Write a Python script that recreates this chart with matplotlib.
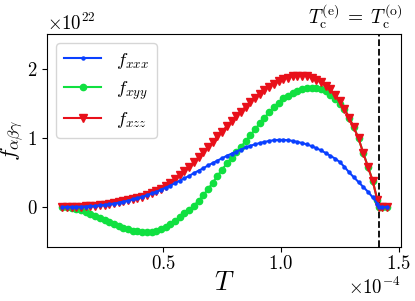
import numpy as np
import matplotlib
matplotlib.use("Agg")
from matplotlib import pyplot as plt

plt.rcParams['font.family'] = 'serif'
plt.rcParams['font.serif'] = ['cmr10', 'DejaVu Serif']
plt.rcParams['mathtext.fontset'] = 'cm'
plt.rcParams['axes.formatter.use_mathtext'] = True
plt.rcParams['axes.unicode_minus'] = False

# temperature in units of 1e-4, f in units of 1e22
T_scale = 1e-4
f_scale = 1e22
T_c = 1.415

T_vals = [0.07, 0.09, 0.11, 0.13, 0.15, 0.17, 0.19, 0.21, 0.23, 0.25,
          0.27, 0.29, 0.31, 0.33, 0.35, 0.37, 0.39, 0.41, 0.43, 0.45,
          0.47, 0.49, 0.51, 0.53, 0.55, 0.57, 0.59, 0.61, 0.63, 0.65,
          0.67, 0.69, 0.71, 0.73, 0.75, 0.77, 0.79, 0.81, 0.83, 0.85,
          0.87, 0.89, 0.91, 0.93, 0.95, 0.97, 0.99, 1.01, 1.03, 1.05,
          1.07, 1.09, 1.11, 1.13, 1.15, 1.17, 1.19, 1.21, 1.23, 1.25,
          1.27, 1.29, 1.31, 1.33, 1.35, 1.37, 1.39, 1.41,
          1.415, 1.43, 1.45]

f_xxx = [0.000, 0.000, 0.001, 0.002, 0.004, 0.007, 0.011, 0.016, 0.023, 0.030,
         0.040, 0.050, 0.062, 0.076, 0.092, 0.110, 0.130, 0.150, 0.170, 0.195,
         0.220, 0.250, 0.280, 0.310, 0.345, 0.380, 0.415, 0.450, 0.490, 0.525,
         0.560, 0.600, 0.635, 0.670, 0.705, 0.740, 0.770, 0.800, 0.830, 0.860,
         0.885, 0.905, 0.925, 0.940, 0.955, 0.965, 0.970, 0.970, 0.965, 0.955,
         0.940, 0.925, 0.905, 0.880, 0.850, 0.820, 0.780, 0.740, 0.700, 0.650,
         0.580, 0.500, 0.430, 0.360, 0.290, 0.220, 0.140, 0.050,
         0.0, 0.0, 0.0]

f_xyy = [0.000, -0.005, -0.015, -0.030, -0.050, -0.075, -0.100, -0.130, -0.160, -0.190,
         -0.220, -0.250, -0.275, -0.300, -0.320, -0.340, -0.350, -0.360, -0.360, -0.355,
         -0.340, -0.320, -0.290, -0.250, -0.200, -0.150, -0.090, -0.040, 0.020, 0.090,
         0.170, 0.260, 0.350, 0.450, 0.540, 0.630, 0.710, 0.790, 0.870, 0.950,
         1.040, 1.120, 1.210, 1.290, 1.370, 1.440, 1.510, 1.570, 1.610, 1.650,
         1.680, 1.700, 1.715, 1.720, 1.720, 1.700, 1.670, 1.620, 1.560, 1.490,
         1.410, 1.290, 1.150, 0.990, 0.780, 0.580, 0.380, 0.100,
         0.0, 0.0, 0.0]

f_xzz = [0.000, 0.000, 0.000, 0.002, 0.005, 0.010, 0.015, 0.020, 0.030, 0.035,
         0.045, 0.055, 0.065, 0.080, 0.095, 0.110, 0.130, 0.150, 0.170, 0.195,
         0.225, 0.260, 0.300, 0.350, 0.400, 0.460, 0.520, 0.580, 0.650, 0.720,
         0.790, 0.860, 0.940, 1.020, 1.090, 1.170, 1.240, 1.310, 1.380, 1.450,
         1.520, 1.580, 1.640, 1.690, 1.740, 1.780, 1.820, 1.850, 1.870, 1.890,
         1.900, 1.900, 1.890, 1.870, 1.840, 1.800, 1.750, 1.700, 1.620, 1.530,
         1.420, 1.290, 1.150, 0.990, 0.780, 0.580, 0.380, 0.100,
         0.0, 0.0, 0.0]

T = np.array(T_vals) * T_scale

fig = plt.figure(figsize=(4.15, 3.01), dpi=100)
ax = fig.add_axes([0.113, 0.179, 0.853, 0.708])

ax.plot(T, np.array(f_xxx) * f_scale, color='#0a40ff', marker='o', markersize=2.2,
        linewidth=1.5, label=r'$f_{xxx}$', zorder=3)
ax.plot(T, np.array(f_xyy) * f_scale, color='#10e040', marker='o', markersize=4.5,
        linewidth=1.5, label=r'$f_{xyy}$', zorder=2)
ax.plot(T, np.array(f_xzz) * f_scale, color='#e8101a', marker='v', markersize=5.5,
        linewidth=1.5, label=r'$f_{xzz}$', zorder=2.5)

ax.axvline(T_c * T_scale, color='k', linestyle='--', linewidth=1.3)
ax.annotate(r'$T_{\rm c}^{(\rm e)}\;=\;T_{\rm c}^{(\rm o)}$', xy=(T_c * T_scale, 1),
            xycoords=('data', 'axes fraction'), xytext=(-17, 2),
            textcoords='offset points', ha='center', va='bottom', fontsize=14)

ax.set_xlim(0.005e-4, 1.51e-4)
ax.set_ylim(-0.58e22, 2.5e22)
ax.set_xticks([0.5e-4, 1.0e-4, 1.5e-4])
ax.set_yticks([0, 1e22, 2e22])
ax.ticklabel_format(axis='both', style='sci', scilimits=(0, 0))
ax.tick_params(labelsize=13.5)
ax.tick_params(axis='x', pad=2)
ax.xaxis.get_offset_text().set_fontsize(13.5)
ax.yaxis.get_offset_text().set_fontsize(13.5)

ax.set_xlabel(r'$T$', fontsize=19, labelpad=-1)
ax.set_ylabel(r'$f_{\alpha\beta\gamma}$', fontsize=16.5)
ax.yaxis.set_label_coords(-0.058, 0.5)
ax.legend(loc='upper left', fontsize=13.5, labelspacing=0.45)

fig.savefig('out.png', dpi=100)
